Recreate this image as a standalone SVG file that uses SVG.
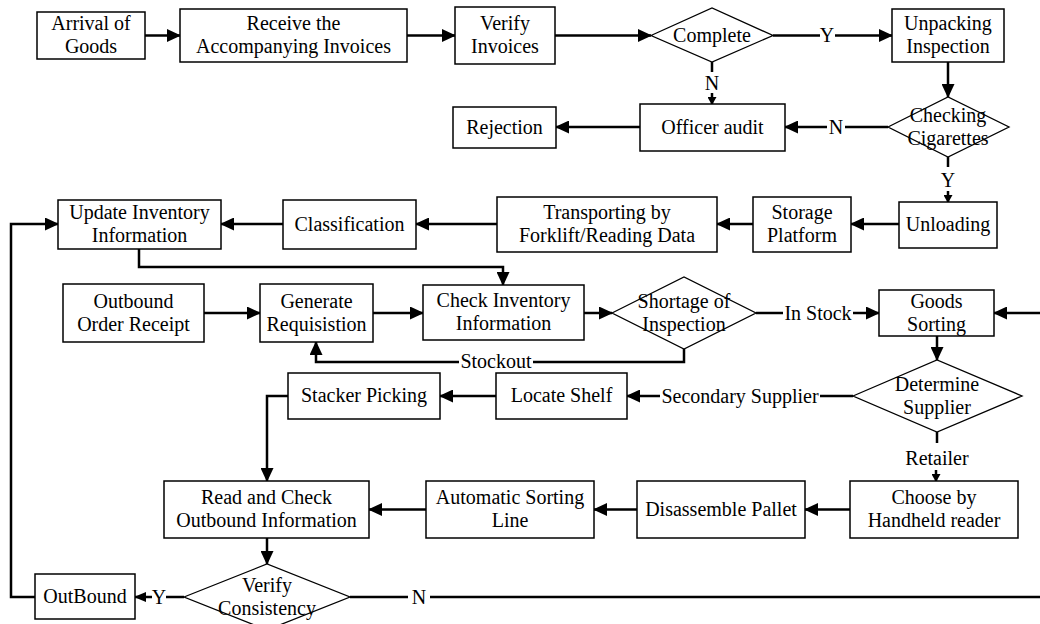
<svg xmlns="http://www.w3.org/2000/svg" width="1040" height="624" viewBox="0 0 1040 624">
<style>
.b{fill:#fff;stroke:#000;stroke-width:1.5}
.d{fill:#fff;stroke:#000;stroke-width:1.3}
.t{font-family:'Liberation Serif','Times New Roman',Tinos,'Nimbus Roman','DejaVu Serif',serif;font-size:20px;text-anchor:middle;fill:#000}
.c{fill:none;stroke:#000;stroke-width:2.5}
.ca{fill:none;stroke:#000;stroke-width:2.5;marker-end:url(#a)}
.cs{fill:none;stroke:#000;stroke-width:2.5;marker-end:url(#s)}
.cm{fill:none;stroke:#000;stroke-width:2.5;marker-end:url(#m)}
</style>
<defs>
<marker id="a" markerUnits="userSpaceOnUse" markerWidth="14" markerHeight="13" refX="13" refY="6.5" orient="auto"><path d="M0,0 L14,6.5 L0,13 z" fill="#000"/></marker>
<marker id="m" markerUnits="userSpaceOnUse" markerWidth="12" markerHeight="10" refX="11" refY="5" orient="auto"><path d="M0,0 L12,5 L0,10 z" fill="#000"/></marker>
<marker id="s" markerUnits="userSpaceOnUse" markerWidth="8" markerHeight="9" refX="7" refY="4.5" orient="auto"><path d="M0,0 L8,4.5 L0,9 z" fill="#000"/></marker>
</defs>
<rect width="1040" height="624" fill="#fff"/>
<g id="connectors">
<path class="ca" d="M145,35.5 H180"/>
<path class="ca" d="M407,35.5 H455"/>
<path class="ca" d="M555,35.5 H651"/>
<path class="c" d="M773,35.5 H820"/>
<path class="ca" d="M835,35.5 H892"/>
<text class="t" x="827" y="42">Y</text>
<path class="c" d="M712,62 V72"/>
<text class="t" x="712" y="90">N</text>
<path class="cs" d="M712,93 V104"/>
<path class="ca" d="M948,62 V97"/>
<path class="c" d="M888,127 H845"/>
<text class="t" x="836" y="134">N</text>
<path class="ca" d="M827,127 H785"/>
<path class="ca" d="M640,127 H556"/>
<path class="c" d="M948,157 V167"/>
<text class="t" x="948" y="187">Y</text>
<path class="cs" d="M948,191 V202"/>
<path class="ca" d="M899,224 H851"/>
<path class="ca" d="M753,224 H717"/>
<path class="ca" d="M497,224 H416"/>
<path class="ca" d="M283,224 H221"/>
<path class="ca" d="M139,249 V267 H503 V285"/>
<path class="ca" d="M204,313 H260"/>
<path class="ca" d="M373,313 H423"/>
<path class="ca" d="M584,313 H612"/>
<path class="c" d="M756,313 H783"/>
<text class="t" x="818" y="320">In Stock</text>
<path class="ca" d="M853,313 H879"/>
<path class="c" d="M684,349 V362 H533"/>
<text class="t" x="496" y="368">Stockout</text>
<path class="ca" d="M459,362 H316 V342"/>
<path class="ca" d="M937,336 V360"/>
<path class="c" d="M853,396 H820"/>
<text class="t" x="740" y="403">Secondary Supplier</text>
<path class="ca" d="M660,396 H627"/>
<path class="ca" d="M496,396 H440"/>
<path class="ca" d="M288,396 H267 V481"/>
<path class="c" d="M937,432 V443"/>
<text class="t" x="937" y="465">Retailer</text>
<path class="cs" d="M936,470 V481"/>
<path class="ca" d="M850,509.5 H805"/>
<path class="ca" d="M637,509.5 H594"/>
<path class="ca" d="M426,509.5 H369"/>
<path class="ca" d="M267,538 V564"/>
<path class="c" d="M184,597 H166"/>
<text class="t" x="159" y="604">Y</text>
<path class="cm" d="M152,597 H135"/>
<path class="c" d="M350,597 H408"/>
<text class="t" x="419" y="604">N</text>
<path class="ca" d="M430,597 H1043 V313 H994"/>
<path class="ca" d="M35,597 H11 V224 H58"/>
</g>
<g id="arrival"><rect class="b" x="37" y="12" width="108" height="47"/><text class="t" x="91" y="30">Arrival of</text><text class="t" x="91" y="53">Goods</text></g>
<g id="receive"><rect class="b" x="180" y="9" width="227" height="53"/><text class="t" x="293.5" y="30">Receive the</text><text class="t" x="293.5" y="53">Accompanying Invoices</text></g>
<g id="verify"><rect class="b" x="455" y="7" width="100" height="57"/><text class="t" x="505" y="30">Verify</text><text class="t" x="505" y="53">Invoices</text></g>
<g id="complete"><polygon class="d" points="651,35.5 712,8 773,35.5 712,62"/><text class="t" x="712" y="42">Complete</text></g>
<g id="unpacking"><rect class="b" x="892" y="9" width="112" height="53"/><text class="t" x="948" y="30">Unpacking</text><text class="t" x="948" y="53">Inspection</text></g>
<g id="checking"><polygon class="d" points="888,127 948,97 1009,127 948,157"/><text class="t" x="948" y="122">Checking</text><text class="t" x="948" y="145">Cigarettes</text></g>
<g id="officer"><rect class="b" x="640" y="104" width="145" height="47"/><text class="t" x="712.5" y="134">Officer audit</text></g>
<g id="rejection"><rect class="b" x="453" y="107" width="103" height="41"/><text class="t" x="504.5" y="134">Rejection</text></g>
<g id="unloading"><rect class="b" x="899" y="202" width="98" height="46"/><text class="t" x="948" y="231">Unloading</text></g>
<g id="storage"><rect class="b" x="753" y="197" width="98" height="55"/><text class="t" x="802" y="219">Storage</text><text class="t" x="802" y="242">Platform</text></g>
<g id="transporting"><rect class="b" x="497" y="197" width="220" height="55"/><text class="t" x="607" y="219">Transporting by</text><text class="t" x="607" y="242">Forklift/Reading Data</text></g>
<g id="classification"><rect class="b" x="283" y="200" width="133" height="49"/><text class="t" x="349.5" y="231">Classification</text></g>
<g id="update"><rect class="b" x="58" y="200" width="163" height="49"/><text class="t" x="139.5" y="219">Update Inventory</text><text class="t" x="139.5" y="242">Information</text></g>
<g id="outbound-order"><rect class="b" x="63" y="284" width="141" height="58"/><text class="t" x="133.5" y="308">Outbound</text><text class="t" x="133.5" y="331">Order Receipt</text></g>
<g id="generate"><rect class="b" x="260" y="284" width="113" height="58"/><text class="t" x="316.5" y="308">Generate</text><text class="t" x="316.5" y="331">Requisistion</text></g>
<g id="check-inventory"><rect class="b" x="423" y="285" width="161" height="55"/><text class="t" x="503.5" y="307">Check Inventory</text><text class="t" x="503.5" y="330">Information</text></g>
<g id="shortage"><polygon class="d" points="612,313 684,277 756,313 684,349"/><text class="t" x="684" y="308">Shortage of</text><text class="t" x="684" y="331">Inspection</text></g>
<g id="goods-sorting"><rect class="b" x="879" y="290" width="115" height="46"/><text class="t" x="936.5" y="308">Goods</text><text class="t" x="936.5" y="331">Sorting</text></g>
<g id="determine"><polygon class="d" points="853,396 937,360 1022,396 937,432"/><text class="t" x="937" y="391">Determine</text><text class="t" x="937" y="414">Supplier</text></g>
<g id="locate"><rect class="b" x="496" y="373" width="131" height="46"/><text class="t" x="561.5" y="402">Locate Shelf</text></g>
<g id="stacker"><rect class="b" x="288" y="373" width="152" height="46"/><text class="t" x="364" y="402">Stacker Picking</text></g>
<g id="read-check"><rect class="b" x="164" y="481" width="205" height="57"/><text class="t" x="266.5" y="504">Read and Check</text><text class="t" x="266.5" y="527">Outbound Information</text></g>
<g id="auto-sorting"><rect class="b" x="426" y="481" width="168" height="57"/><text class="t" x="510" y="504">Automatic Sorting</text><text class="t" x="510" y="527">Line</text></g>
<g id="disassemble"><rect class="b" x="637" y="481" width="168" height="57"/><text class="t" x="721" y="516">Disassemble Pallet</text></g>
<g id="choose"><rect class="b" x="850" y="481" width="168" height="57"/><text class="t" x="934" y="504">Choose by</text><text class="t" x="934" y="527">Handheld reader</text></g>
<g id="verify-consistency"><polygon class="d" points="184,597 267,564 350,597 267,630"/><text class="t" x="267" y="592">Verify</text><text class="t" x="267" y="615">Consistency</text></g>
<g id="outbound"><rect class="b" x="35" y="574" width="100" height="45"/><text class="t" x="85" y="603">OutBound</text></g>
</svg>
